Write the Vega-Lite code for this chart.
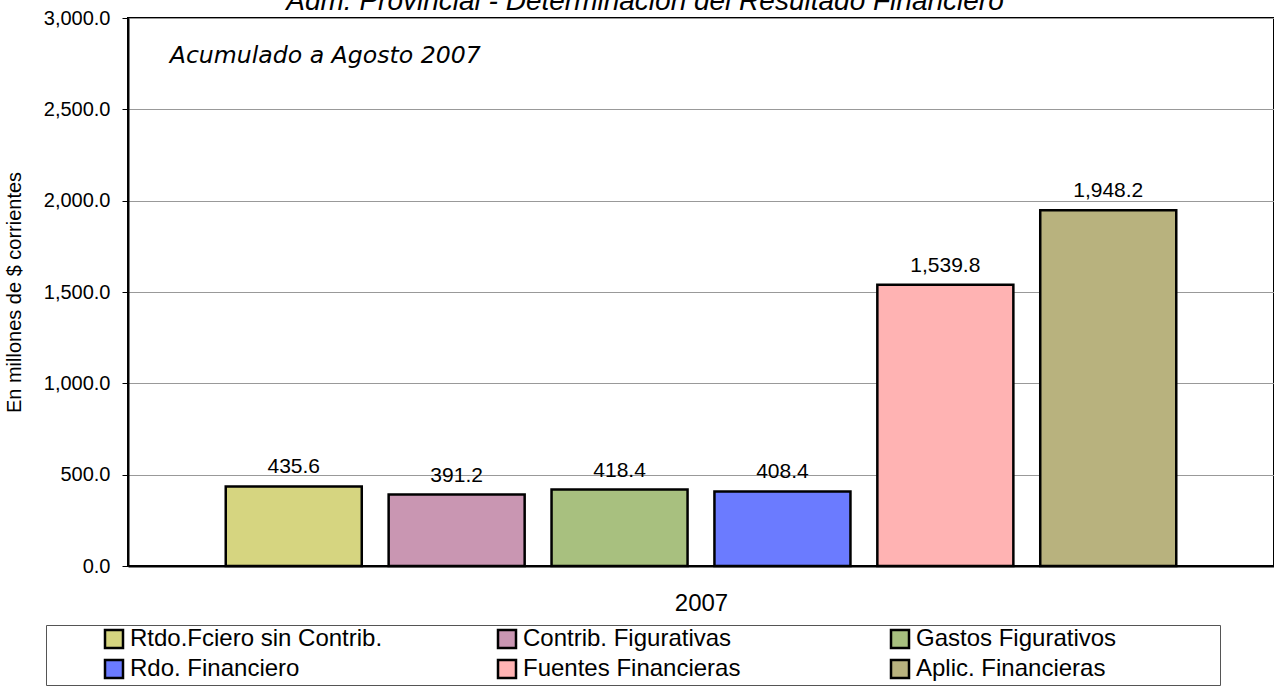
{
  "$schema": "https://vega.github.io/schema/vega-lite/v6.json",
  "width": 1146,
  "height": 548,
  "autosize": {"type": "none"},
  "padding": {"left": 128, "top": 18, "right": 0, "bottom": 123},
  "background": "white",
  "config": {
    "font": "Liberation Sans",
    "view": {"stroke": "black", "strokeWidth": 2}
  },
  "title": {
    "text": "Adm. Provincial - Determinación del Resultado Financiero",
    "fontSize": 28,
    "fontStyle": "italic",
    "fontWeight": "normal",
    "font": "Liberation Sans",
    "color": "black",
    "anchor": "middle",
    "frame": "group",
    "dx": -56,
    "dy": 8,
    "offset": 0
  },
  "data": {
    "values": [
      {"serie": "Rtdo.Fciero sin Contrib.", "anio": "2007", "valor": 435.6},
      {"serie": "Contrib. Figurativas", "anio": "2007", "valor": 391.2},
      {"serie": "Gastos Figurativos", "anio": "2007", "valor": 418.4},
      {"serie": "Rdo. Financiero", "anio": "2007", "valor": 408.4},
      {"serie": "Fuentes Financieras", "anio": "2007", "valor": 1539.8},
      {"serie": "Aplic. Financieras", "anio": "2007", "valor": 1948.2}
    ]
  },
  "encoding": {
    "x": {
      "field": "serie",
      "type": "nominal",
      "sort": null,
      "scale": {"paddingInner": 0.165, "paddingOuter": 0.6},
      "axis": {
        "title": "2007",
        "titleFontSize": 24,
        "titleFontWeight": "normal",
        "titleColor": "black",
        "titlePadding": 25,
        "labels": false,
        "ticks": false,
        "domainColor": "black",
        "domainWidth": 2
      }
    },
    "y": {
      "field": "valor",
      "type": "quantitative",
      "scale": {"domain": [0, 3000]},
      "axis": {
        "title": "En millones de $ corrientes",
        "titleFontSize": 20,
        "titleFontWeight": "normal",
        "titleColor": "black",
        "titlePadding": 19,
        "values": [0, 500, 1000, 1500, 2000, 2500, 3000],
        "format": ",.1f",
        "labelFontSize": 20,
        "labelColor": "black",
        "labelPadding": 12,
        "tickSize": 6,
        "tickColor": "black",
        "domainColor": "black",
        "domainWidth": 2,
        "gridColor": "#999999",
        "gridWidth": 1
      }
    }
  },
  "layer": [
    {
      "mark": {"type": "bar", "stroke": "black", "strokeWidth": 2.5},
      "encoding": {
        "color": {
          "field": "serie",
          "type": "nominal",
          "sort": null,
          "scale": {
            "domain": ["Rtdo.Fciero sin Contrib.", "Contrib. Figurativas", "Gastos Figurativos", "Rdo. Financiero", "Fuentes Financieras", "Aplic. Financieras"],
            "range": ["#D6D580", "#C996B2", "#A8C07F", "#6B7BFF", "#FFB3B3", "#B8B27E"]
          },
          "legend": {
            "orient": "none",
            "legendX": -82,
            "legendY": 607,
            "direction": "horizontal",
            "columns": 3,
            "gridAlign": "all",
            "columnPadding": 58,
            "rowPadding": 2,
            "padding": 2,
            "title": " ",
            "titleOrient": "right",
            "titlePadding": 102,
            "titleFontSize": 2,
            "symbolType": "square",
            "symbolSize": 324,
            "symbolStrokeColor": "black",
            "symbolStrokeWidth": 2.5,
            "symbolOffset": 54,
            "labelFontSize": 24,
            "labelColor": "black",
            "labelOffset": 4,
            "labelLimit": 500,
            "strokeColor": "#555555",
            "fillColor": "white"
          }
        }
      }
    },
    {
      "mark": {"type": "text", "baseline": "bottom", "dy": -9, "fontSize": 21, "color": "black"},
      "encoding": {
        "text": {"field": "valor", "type": "quantitative", "format": ",.1f"}
      }
    },
    {
      "data": {"values": [{"nota": "Acumulado a Agosto 2007", "pos": "Rtdo.Fciero sin Contrib.", "v": 2790}]},
      "mark": {"type": "text", "align": "left", "baseline": "middle", "dx": -56, "fontSize": 23.6, "fontStyle": "italic", "font": "DejaVu Sans", "color": "black"},
      "encoding": {
        "x": {"field": "pos", "type": "nominal", "bandPosition": 0},
        "y": {"field": "v", "type": "quantitative"},
        "text": {"field": "nota"}
      }
    }
  ]
}
